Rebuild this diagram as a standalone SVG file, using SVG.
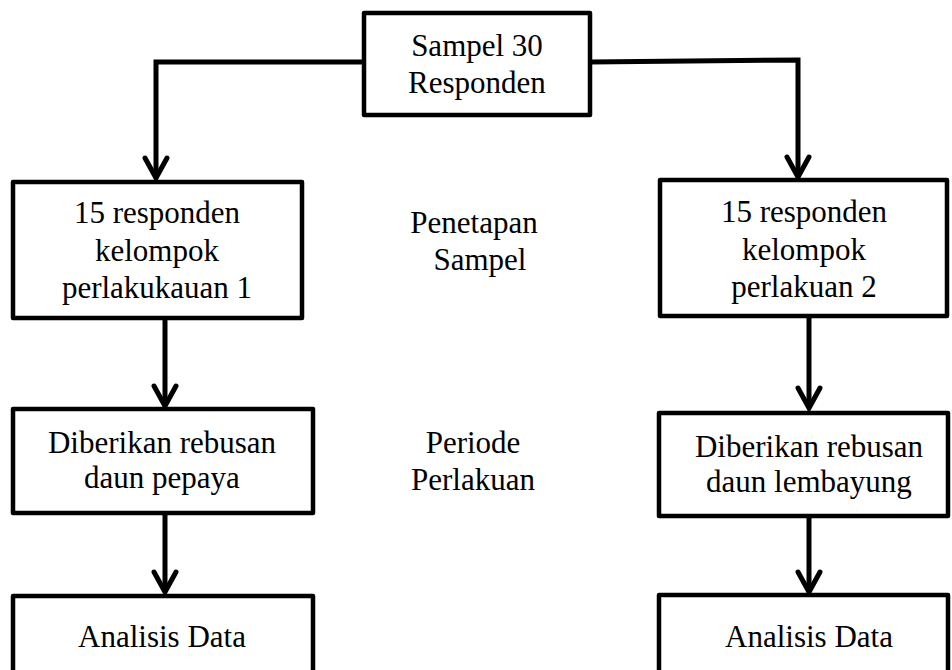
<svg xmlns="http://www.w3.org/2000/svg" width="952" height="670" viewBox="0 0 952 670">
<defs>
<style>
.box{fill:#fff;stroke:#000;stroke-width:4.5;stroke-linejoin:round}
.con{fill:none;stroke:#000;stroke-width:5;stroke-linejoin:miter}
.t{font-family:"Liberation Serif","Times New Roman",serif;font-size:31px;fill:#000;text-anchor:middle}
</style>
<marker id="arr" markerUnits="userSpaceOnUse" viewBox="-24 -14 28 28" refX="0" refY="0" markerWidth="28" markerHeight="28" orient="auto" overflow="visible">
<path d="M-20,-11 L0,0 L-20,11" fill="none" stroke="#000" stroke-width="5" stroke-linecap="round" stroke-linejoin="miter"/>
</marker>
</defs>
<rect width="952" height="670" fill="#fff"/>
<g id="connectors">
<path class="con" d="M364,62 L156,62 L156,178" marker-end="url(#arr)"/>
<path class="con" d="M590,62 L798,60 L798,177" marker-end="url(#arr)"/>
<path class="con" d="M165,318 L165,406" marker-end="url(#arr)"/>
<path class="con" d="M165,513 L165,592" marker-end="url(#arr)"/>
<path class="con" d="M809,316 L809,408" marker-end="url(#arr)"/>
<path class="con" d="M809,516 L809,592" marker-end="url(#arr)"/>
</g>
<g id="n-sampel">
<rect class="box" x="364" y="13" width="226" height="102"/>
<text class="t" x="477" y="56">Sampel 30</text>
<text class="t" x="477" y="93">Responden</text>
</g>
<g id="n-k1">
<rect class="box" x="13" y="182" width="289" height="136"/>
<text class="t" x="157" y="223">15 responden</text>
<text class="t" x="157" y="261">kelompok</text>
<text class="t" x="157" y="298">perlakukauan 1</text>
</g>
<g id="n-k2">
<rect class="box" x="660" y="180" width="287" height="136"/>
<text class="t" x="804" y="222">15 responden</text>
<text class="t" x="804" y="260">kelompok</text>
<text class="t" x="804" y="297">perlakuan 2</text>
</g>
<g id="n-penetapan">
<text class="t" x="474" y="233">Penetapan</text>
<text class="t" x="480" y="270">Sampel</text>
</g>
<g id="n-d1">
<rect class="box" x="13" y="409" width="300" height="104"/>
<text class="t" x="162" y="453">Diberikan rebusan</text>
<text class="t" x="162" y="488">daun pepaya</text>
</g>
<g id="n-periode">
<text class="t" x="473" y="453">Periode</text>
<text class="t" x="473" y="490">Perlakuan</text>
</g>
<g id="n-d2">
<rect class="box" x="659" y="413" width="289" height="103"/>
<text class="t" x="809" y="457">Diberikan rebusan</text>
<text class="t" x="809" y="492">daun lembayung</text>
</g>
<g id="n-a1">
<rect class="box" x="13" y="596" width="300" height="110"/>
<text class="t" x="162" y="647">Analisis Data</text>
</g>
<g id="n-a2">
<rect class="box" x="659" y="595" width="289" height="110"/>
<text class="t" x="809" y="647">Analisis Data</text>
</g>
</svg>
